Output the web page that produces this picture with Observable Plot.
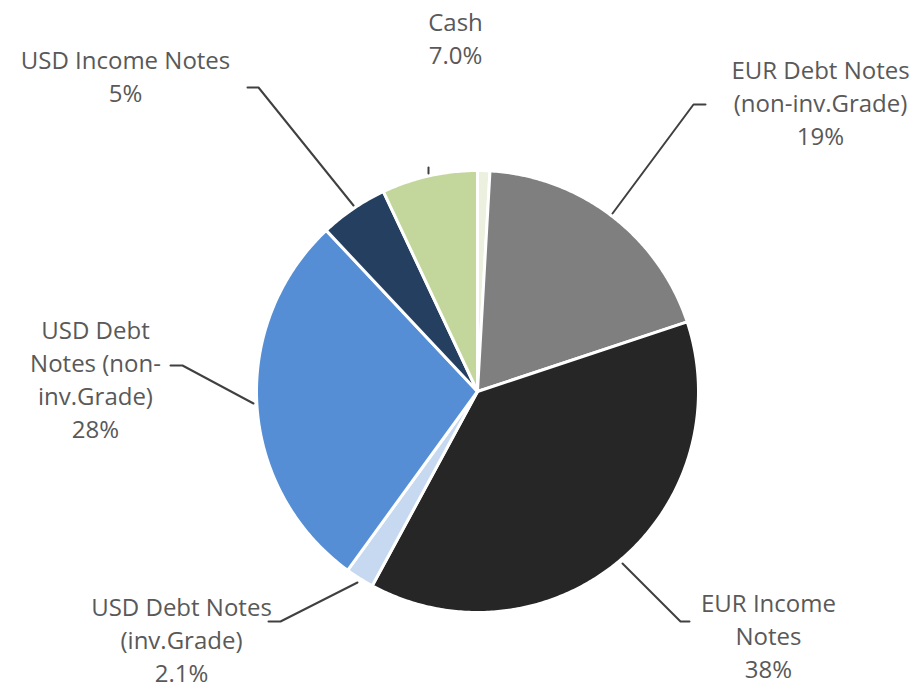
<!DOCTYPE html>
<html>
<head>
<meta charset="utf-8">
<script src="https://cdn.jsdelivr.net/npm/d3@7"></script>
<script src="https://cdn.jsdelivr.net/npm/@observablehq/plot@0.6"></script>
<style>
  html, body { margin: 0; padding: 0; background: #ffffff; }
  #chart { width: 918px; height: 688px; }
</style>
</head>
<body>
<div id="chart"></div>
<script>
// ---- Data ----
const categories = ["Other", "EUR Debt Notes (non-inv.Grade)", "EUR Income Notes", "USD Debt Notes (inv.Grade)", "USD Debt Notes (non-inv.Grade)", "USD Income Notes", "Cash"];
const values = [0.9, 19, 38, 2.1, 28, 5, 7.0];
const valueLabels = ["", "19%", "38%", "2.1%", "28%", "5%", "7.0%"];
const labelLines = ["", "EUR Debt Notes\n(non-inv.Grade)", "EUR Income\nNotes", "USD Debt Notes\n(inv.Grade)", "USD Debt\nNotes (non-\ninv.Grade)", "USD Income Notes", "Cash"];
const colors = ["#ebf1de", "#7f7f7f", "#262626", "#c6d9f1", "#558ed5", "#243f60", "#c3d69b"];

// ---- Layout (pixels) ----
const W = 918, H = 688, CX = 477, CY = 391, R = 221;
const labelPos = [null, [820, 101], [768, 634], [181, 638], [95, 377], [125, 74], [455, 36]];
const leaders = [
  [[705, 104], [693, 104], [612, 213]],
  [[622, 563], [680, 621], [689, 621]],
  [[268, 621], [280, 621], [357, 582]],
  [[170, 365], [182, 365], [253, 403]],
  [[247, 87], [258, 87], [353, 205]],
  [[428, 167], [428, 173]]
];

const toU = px => (px - CX) / R;
const toV = py => (CY - py) / R;

const arcs = d3.pie().sort(null).value(d => d)(values);

const marks = [];
arcs.forEach((a, i) => {
  const pts = [{u: 0, v: 0}];
  const n = Math.max(4, Math.ceil((a.endAngle - a.startAngle) / 0.01));
  for (let k = 0; k <= n; k++) {
    const t = a.startAngle + (a.endAngle - a.startAngle) * k / n;
    pts.push({u: Math.sin(t), v: Math.cos(t)});
  }
  marks.push(Plot.line(pts, {
    x: "u", y: "v", fill: colors[i], stroke: "#ffffff", strokeWidth: 3,
    strokeLinejoin: "round", curve: "linear-closed"
  }));
});

leaders.forEach(l => {
  marks.push(Plot.line(l.map(p => ({u: toU(p[0]), v: toV(p[1])})), {
    x: "u", y: "v", stroke: "#404040", strokeWidth: 2
  }));
});

const labelData = [];
categories.forEach((c, i) => {
  if (!labelPos[i]) return;
  labelData.push({
    u: toU(labelPos[i][0]), v: toV(labelPos[i][1]),
    text: labelLines[i] + "\n" + valueLabels[i]
  });
});
marks.push(Plot.text(labelData, {
  x: "u", y: "v", text: "text", fill: "#595959",
  fontSize: 24, lineHeight: 33 / 24, textAnchor: "middle", lineAnchor: "middle",
  fontFamily: "'Open Sans', sans-serif"
}));

const plot = Plot.plot({
  width: W, height: H,
  margin: 0,
  x: {domain: [toU(0), toU(W)], axis: null},
  y: {domain: [toV(H), toV(0)], axis: null},
  style: {background: "#ffffff", fontFamily: "'Open Sans', sans-serif"},
  marks
});
document.getElementById("chart").appendChild(plot);
</script>
</body>
</html>
